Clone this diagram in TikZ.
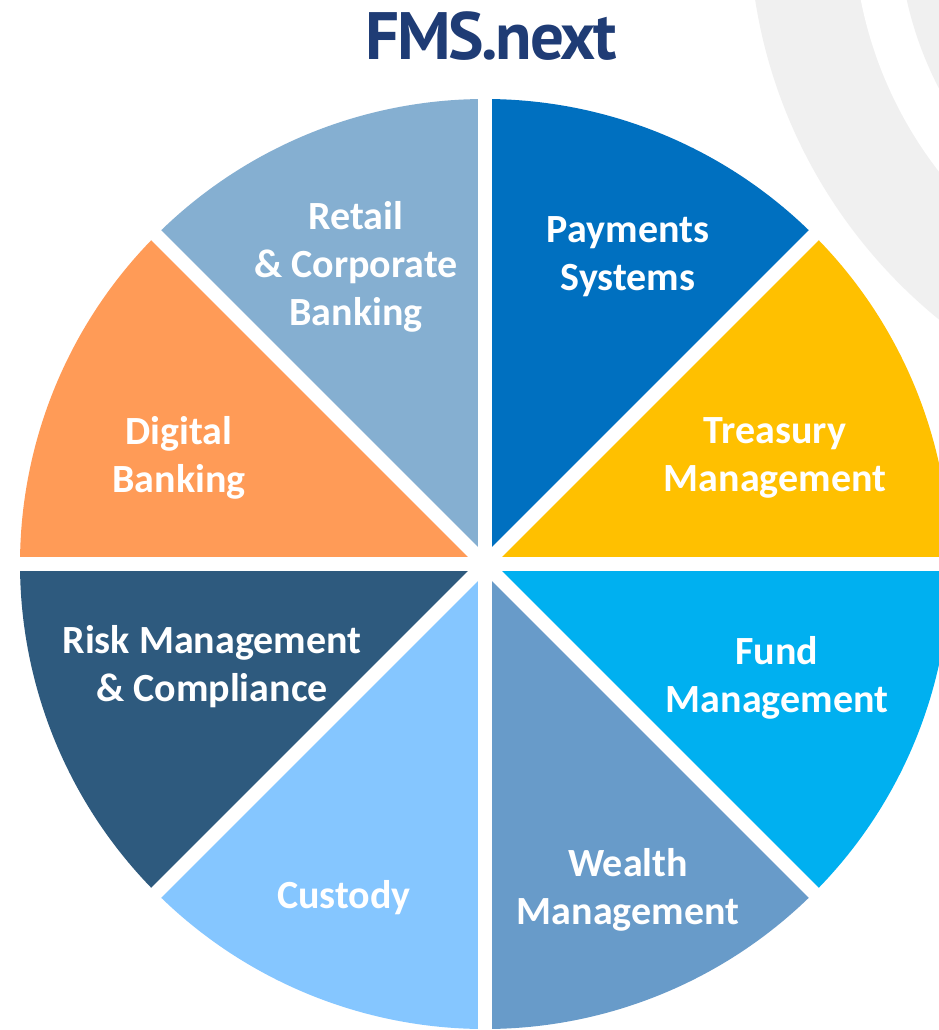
\documentclass[tikz,border=0pt]{standalone}
\usepackage{fontspec}
\setmainfont{Carlito}
\newfontfamily\logofont[LetterSpace=-3.5]{PT Sans}
\definecolor{cRetail}{HTML}{85AFD1}
\definecolor{cPay}{HTML}{0070C0}
\definecolor{cTreas}{HTML}{FFC000}
\definecolor{cFund}{HTML}{00B0F0}
\definecolor{cWealth}{HTML}{689BC9}
\definecolor{cCust}{HTML}{85C6FF}
\definecolor{cRisk}{HTML}{2E5A7E}
\definecolor{cDig}{HTML}{FF9B57}
\definecolor{cLogo}{HTML}{1F3C75}
\definecolor{cBand}{HTML}{F0F0F0}
\tikzset{
  lbl/.style={text=white,font=\bfseries\fontsize{40}{48}\selectfont,align=center,inner sep=0pt},
  logo/.style={text=cLogo,inner sep=0pt,font=\logofont\bfseries\fontsize{67}{67}\selectfont},
  gap/.style={white,line width=14pt}
}
\begin{document}
\begin{tikzpicture}[x=1pt,y=1pt]
\useasboundingbox (0,0) rectangle (939,-1030);
\clip (0,0) rectangle (939,-1030);
\fill[white] (0,0) rectangle (939,-1030);
% background bands
\fill[cBand] (1264,80) circle[radius=515pt];
\fill[white] (1264,80) circle[radius=411pt];
\fill[cBand] (1264,80) circle[radius=366pt];
% sectors
\coordinate (c) at (485,-564);
\fill[cPay]    (c) -- ++(90:465pt) arc[start angle=90,end angle=45,radius=465pt] -- cycle;
\fill[cTreas]  (c) -- ++(45:465pt) arc[start angle=45,end angle=0,radius=465pt] -- cycle;
\fill[cFund]   (c) -- ++(0:465pt) arc[start angle=0,end angle=-45,radius=465pt] -- cycle;
\fill[cWealth] (c) -- ++(-45:465pt) arc[start angle=-45,end angle=-90,radius=465pt] -- cycle;
\fill[cCust]   (c) -- ++(-90:465pt) arc[start angle=-90,end angle=-135,radius=465pt] -- cycle;
\fill[cRisk]   (c) -- ++(-135:465pt) arc[start angle=-135,end angle=-180,radius=465pt] -- cycle;
\fill[cDig]    (c) -- ++(180:465pt) arc[start angle=180,end angle=135,radius=465pt] -- cycle;
\fill[cRetail] (c) -- ++(135:465pt) arc[start angle=135,end angle=90,radius=465pt] -- cycle;
% white gaps
\draw[gap] (c) ++(90:480pt) -- ++(-90:960pt);
\draw[gap] (c) ++(180:480pt) -- ++(0:960pt);
\draw[gap] (c) ++(135:480pt) -- ++(-45:960pt);
\draw[gap] (c) ++(45:480pt) -- ++(-135:960pt);
% labels
\node[lbl] (retail) at (356,-267) {Retail\\\& Corporate\\Banking};
\node[lbl] (pay) at (628,-257) {Payments\\Systems};
\node[lbl] (treas) at (775,-458) {Treasury\\Management};
\node[lbl] (dig) at (179,-458) {Digital\\Banking};
\node[lbl] (risk) at (212,-667) {Risk Management\\\& Compliance};
\node[lbl] (fund) at (777,-678) {Fund\\Management};
\node[lbl] (cust) at (344,-898) {Custody};
\node[lbl] (wealth) at (628,-890) {Wealth\\Management};
\node[logo] (fms) at (491,-36) {FMS.next};
\end{tikzpicture}
\end{document}
